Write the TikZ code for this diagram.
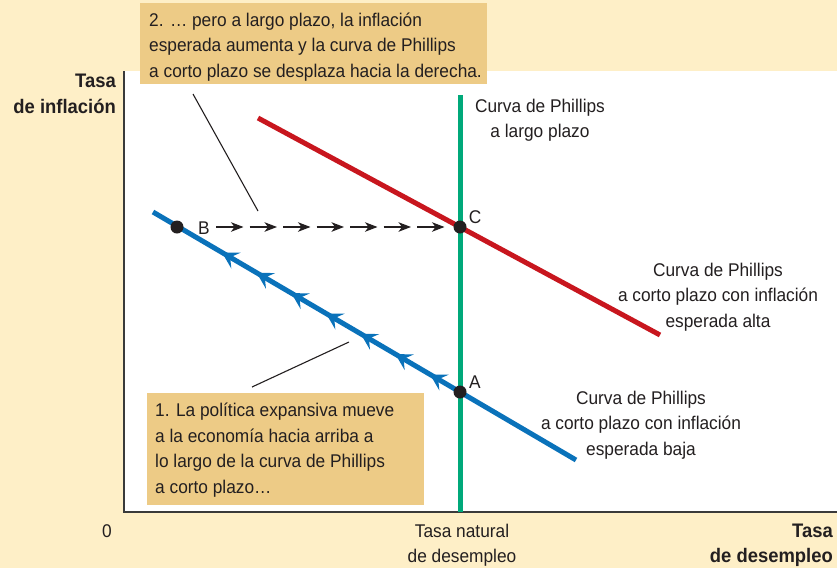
\documentclass[tikz,border=0pt]{standalone}
\usepackage{fontspec}
\setmainfont{Liberation Sans}[FakeStretch=0.94]
\usetikzlibrary{arrows.meta,decorations.markings,calc}
\definecolor{bgy}{HTML}{FEEFC7}
\definecolor{boxy}{HTML}{EDCB86}
\definecolor{pcred}{HTML}{C8161E}
\definecolor{pcblue}{HTML}{0A72BA}
\definecolor{pcgreen}{HTML}{00A97A}
\definecolor{ink}{HTML}{231F20}
\definecolor{axisc}{HTML}{3A3A3A}
\begin{document}
\begin{tikzpicture}[x=1pt,y=-1pt,
  txt/.style={font=\fontsize{18.4}{25.5}\selectfont, text=ink, align=center, inner sep=0pt},
  btxt/.style={font=\fontsize{19.6}{25.5}\selectfont\bfseries, text=ink, align=right, inner sep=0pt},
  notetxt/.style={font=\fontsize{18.4}{25.5}\selectfont, text=ink, align=left, inner sep=0pt, anchor=base west},
  notebox/.style={fill=boxy, inner sep=0pt, anchor=north west},
  dot/.style={circle, fill=ink, inner sep=0pt, minimum size=13pt},
  curve/.style={line width=5pt},
  pointer/.style={draw=ink, line width=1.1pt},
  movearrow/.style={draw=ink, line width=1.2pt, -{Stealth[length=12.5pt,width=9.5pt,inset=3.5pt]}}
]
\useasboundingbox (0,0) rectangle (837,568);
\fill[bgy] (0,0) rectangle (837,568);
\fill[white] (124,71) rectangle (837,512);

% axes
\coordinate (orig) at (124,512);
\coordinate (ytop) at (124,71);
\coordinate (xend) at (837,512);
\draw[axisc, line width=1.6pt] (ytop) -- (orig) -- (xend);

% long-run Phillips curve
\coordinate (g1) at (460,95);
\coordinate (g2) at (460,512);
\draw[curve, pcgreen] (g1) -- (g2);

% high expected inflation SRPC
\coordinate (r1) at (258,118);
\coordinate (r2) at (660,335);
\draw[curve, pcred] (r1) -- (r2);

% low expected inflation SRPC with arrows
\coordinate (b1) at (153,212);
\coordinate (b2) at (576,460);
\draw[curve, pcblue, postaction={decorate},
  decoration={markings,
    mark=between positions 169.2pt and 412pt step 40.2pt with
      {\arrow{Stealth[length=16pt,width=18pt,inset=6.5pt]}}}]
  (b2) -- (b1);

% points
\node[dot] (B) at (177,227) {};
\node[dot] (C) at (460,227) {};
\node[dot] (A) at (460,392) {};
\node[txt, anchor=base] (Blab) at (204,234) {B};
\node[txt, anchor=base] (Clab) at (475,223) {C};
\node[txt, anchor=base] (Alab) at (475,388) {A};

% dashed arrows B -> C
\foreach \i in {0,...,6} {
  \draw[movearrow] ($(B)+(39+33.5*\i,0)$) -- ($(B)+(66.5+33.5*\i,0)$);
}

% axis labels (base = baseline of the last line)
\node[btxt, anchor=base east] (ylab) at (116,113) {Tasa\\de inflación};
\node[txt, anchor=base] (zero) at (107,537) {0};
\node[txt, anchor=base] (natural) at (462,562.5) {Tasa natural\\de desempleo};
\node[btxt, anchor=base east] (xlab) at (833,562.5) {Tasa\\de desempleo};

% curve labels
\node[txt, anchor=base] (lrpc) at (540,137.5) {Curva de Phillips\\a largo plazo};
\node[txt, anchor=base] (srhigh) at (718,327) {Curva de Phillips\\a corto plazo con inflación\\esperada alta};
\node[txt, anchor=base] (srlow) at (641,455) {Curva de Phillips\\a corto plazo con inflación\\esperada baja};

% note boxes
\node[notebox, minimum width=347pt, minimum height=81pt] (box2) at (140,3) {};
\node[notetxt] (note2) at (149,77)
  {2. … pero a largo plazo, la inflación\\esperada aumenta y la curva de Phillips\\a corto plazo se desplaza hacia la derecha.};
\node[notebox, minimum width=277pt, minimum height=112pt] (box1) at (147,393) {};
\node[notetxt] (note1) at (155,493)
  {1. La política expansiva mueve\\a la economía hacia arriba a\\lo largo de la curva de Phillips\\a corto plazo…};

% pointer lines
\coordinate (p2a) at (193,94);
\coordinate (p2b) at (258,211);
\draw[pointer] (p2a) -- (p2b);
\coordinate (p1a) at (252,387);
\coordinate (p1b) at (349,342);
\draw[pointer] (p1a) -- (p1b);
\end{tikzpicture}
\end{document}
